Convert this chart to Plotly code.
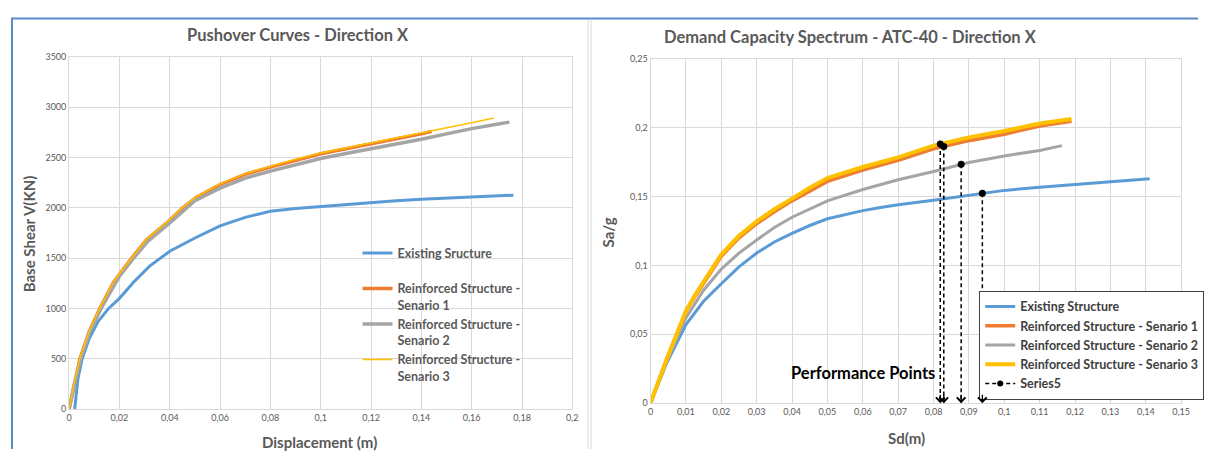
import plotly.graph_objects as go

# ---------------- Left chart: Pushover curves ----------------
disp_existing = [0.0022, 0.0035, 0.0052, 0.008, 0.0115, 0.0157, 0.02, 0.0256, 0.032, 0.04, 0.05,
                 0.06, 0.07, 0.08, 0.09, 0.1, 0.11, 0.12, 0.13, 0.14, 0.15, 0.16, 0.1766]
shear_existing = [0, 300, 500, 700, 870, 1000, 1100, 1260, 1420, 1568, 1700,
                  1820, 1905, 1965, 1992, 2013, 2035, 2055, 2070, 2084, 2097, 2110, 2126]

disp_s1 = [0, 0.002, 0.0043, 0.008, 0.0122, 0.0177, 0.02, 0.0249, 0.0308, 0.04, 0.0452, 0.0505,
           0.06, 0.0702, 0.08, 0.09, 0.1, 0.11, 0.12, 0.13, 0.14, 0.1441]
shear_s1 = [0, 250, 500, 770, 1000, 1261, 1342, 1500, 1682, 1876, 2000, 2102,
            2232, 2335, 2405, 2475, 2538, 2588, 2635, 2685, 2735, 2760]

disp_s2 = [0, 0.002, 0.0045, 0.008, 0.0125, 0.018, 0.02, 0.025, 0.031, 0.04, 0.05,
           0.06, 0.07, 0.08, 0.09, 0.1, 0.11, 0.12, 0.13, 0.14, 0.15, 0.16, 0.17, 0.175]
shear_s2 = [0, 240, 490, 755, 990, 1245, 1320, 1480, 1660, 1850, 2070,
            2195, 2295, 2365, 2430, 2490, 2540, 2585, 2632, 2681, 2735, 2787, 2830, 2852]

disp_s3 = [0, 0.002, 0.0043, 0.008, 0.0122, 0.0177, 0.02, 0.0249, 0.0308, 0.04, 0.0452, 0.0505,
           0.06, 0.0702, 0.08, 0.09, 0.1, 0.11, 0.12, 0.13, 0.14, 0.15, 0.16, 0.1688]
shear_s3 = [0, 255, 505, 775, 1005, 1265, 1345, 1505, 1688, 1882, 2005, 2108,
            2238, 2342, 2412, 2482, 2545, 2595, 2643, 2692, 2742, 2790, 2845, 2892]

left_xticks = [0, 0.02, 0.04, 0.06, 0.08, 0.1, 0.12, 0.14, 0.16, 0.18, 0.2]
left_xlabels = ["0", "0,02", "0,04", "0,06", "0,08", "0,1", "0,12", "0,14", "0,16", "0,18", "0,2"]
left_yticks = [0, 500, 1000, 1500, 2000, 2500, 3000, 3500]
left_ylabels = ["0", "500", "1000", "1500", "2000", "2500", "3000", "3500"]

# ---------------- Right chart: Capacity spectrum ----------------
sd_existing = [0, 0.0045, 0.01, 0.015, 0.02, 0.025, 0.03, 0.035, 0.04, 0.045, 0.05, 0.055, 0.06,
               0.065, 0.07, 0.08, 0.09, 0.1, 0.11, 0.12, 0.13, 0.14, 0.1411]
sa_existing = [0, 0.0288, 0.0571, 0.074, 0.0867, 0.099, 0.109, 0.117, 0.1233, 0.129, 0.1339, 0.137,
               0.1398, 0.142, 0.1441, 0.1474, 0.151, 0.1545, 0.1568, 0.1587, 0.1604, 0.1623, 0.163]

sd_s1 = [0, 0.0045, 0.01, 0.0128, 0.02, 0.025, 0.03, 0.035, 0.04, 0.045, 0.05, 0.06, 0.07,
         0.08, 0.09, 0.1, 0.11, 0.119]
sa_s1 = [0, 0.0312, 0.0666, 0.0784, 0.1067, 0.12, 0.1303, 0.139, 0.1469, 0.154, 0.161, 0.1693,
         0.1764, 0.1847, 0.1906, 0.1953, 0.2012, 0.2047]

sd_s2 = [0, 0.0045, 0.01, 0.015, 0.02, 0.025, 0.03, 0.035, 0.04, 0.045, 0.05, 0.06, 0.07,
         0.08, 0.09, 0.1, 0.11, 0.1163]
sa_s2 = [0, 0.03, 0.0619, 0.082, 0.0973, 0.109, 0.1185, 0.1275, 0.135, 0.141, 0.1469, 0.1551,
         0.1622, 0.1682, 0.1748, 0.1795, 0.1835, 0.187]

sd_s3 = [0, 0.0045, 0.01, 0.0128, 0.02, 0.025, 0.03, 0.035, 0.04, 0.045, 0.05, 0.06, 0.07,
         0.08, 0.09, 0.1, 0.11, 0.119]
sa_s3 = [0, 0.0315, 0.067, 0.0795, 0.108, 0.1215, 0.132, 0.1408, 0.1485, 0.1565, 0.1635, 0.1715,
         0.1785, 0.187, 0.193, 0.1976, 0.2031, 0.2064]

perf_sd = [0.0819, 0.0829, 0.0878, 0.0938]
perf_sa = [0.1882, 0.1863, 0.1734, 0.1524]

right_xticks = [i / 100 for i in range(16)]
right_xlabels = ["0", "0,01", "0,02", "0,03", "0,04", "0,05", "0,06", "0,07", "0,08", "0,09",
                 "0,1", "0,11", "0,12", "0,13", "0,14", "0,15"]
right_yticks = [0, 0.05, 0.1, 0.15, 0.2, 0.25]
right_ylabels = ["0", "0,05", "0,1", "0,15", "0,2", "0,25"]

BLUE = "#5B9BD5"
ORANGE = "#ED7D31"
GRAY = "#A5A5A5"
YELLOW = "#FFC000"
TXT = "#595959"
GRID = "#D9D9D9"
FONT = "Lato"

# The page body keeps its default 8px margin, so the figure fills the window minus it.
PAGE_MARGIN = 8
W, H = 1215 - 2 * PAGE_MARGIN, 462 - 2 * PAGE_MARGIN


def px(x):
    return (x - PAGE_MARGIN) / W


def py(y):
    return (H - (y - PAGE_MARGIN)) / H


fig = go.Figure()

# Left chart traces
fig.add_trace(go.Scatter(x=disp_existing, y=shear_existing, mode="lines",
                         name="Existing Sructure<br> ", line=dict(color=BLUE, width=3),
                         xaxis="x", yaxis="y", legend="legend"))
fig.add_trace(go.Scatter(x=disp_s1, y=shear_s1, mode="lines",
                         name="Reinforced Structure -<br>Senario 1", line=dict(color=ORANGE, width=3.5),
                         xaxis="x", yaxis="y", legend="legend"))
fig.add_trace(go.Scatter(x=disp_s2, y=shear_s2, mode="lines",
                         name="Reinforced Structure -<br>Senario 2", line=dict(color=GRAY, width=3.5),
                         xaxis="x", yaxis="y", legend="legend"))
fig.add_trace(go.Scatter(x=disp_s3, y=shear_s3, mode="lines",
                         name="Reinforced Structure -<br>Senario 3", line=dict(color=YELLOW, width=1.5),
                         xaxis="x", yaxis="y", legend="legend"))

# Right chart traces
fig.add_trace(go.Scatter(x=sd_existing, y=sa_existing, mode="lines", name="Existing Structure",
                         line=dict(color=BLUE, width=3), xaxis="x2", yaxis="y2", legend="legend2"))
fig.add_trace(go.Scatter(x=sd_s1, y=sa_s1, mode="lines", name="Reinforced Structure - Senario 1",
                         line=dict(color=ORANGE, width=3.5), xaxis="x2", yaxis="y2", legend="legend2"))
fig.add_trace(go.Scatter(x=sd_s2, y=sa_s2, mode="lines", name="Reinforced Structure - Senario 2",
                         line=dict(color=GRAY, width=3), xaxis="x2", yaxis="y2", legend="legend2"))
fig.add_trace(go.Scatter(x=sd_s3, y=sa_s3, mode="lines", name="Reinforced Structure - Senario 3",
                         line=dict(color=YELLOW, width=4), xaxis="x2", yaxis="y2", legend="legend2"))

# Performance point drop lines
drop_x, drop_y = [], []
for sx, sy in zip(perf_sd, perf_sa):
    drop_x += [sx, sx, None]
    drop_y += [sy, 0, None]
fig.add_trace(go.Scatter(x=drop_x, y=drop_y, mode="lines", showlegend=False,
                         line=dict(color="black", width=1.5, dash="4px,3px"),
                         xaxis="x2", yaxis="y2", hoverinfo="skip"))
fig.add_trace(go.Scatter(x=perf_sd, y=perf_sa, mode="markers", showlegend=False,
                         marker=dict(color="black", size=7), xaxis="x2", yaxis="y2"))
fig.add_trace(go.Scatter(x=[None], y=[None], mode="lines+markers", name="Series5",
                         line=dict(color="black", width=1.5, dash="4px,3px"),
                         marker=dict(color="black", size=6), xaxis="x2", yaxis="y2", legend="legend2"))

annotations = []
for sx in perf_sd:
    annotations.append(dict(x=sx, y=0, xref="x2", yref="y2", ax=0, ay=-10, axref="pixel",
                            ayref="pixel", showarrow=True, arrowhead=4, arrowsize=1.3,
                            arrowwidth=1.3, arrowcolor="black", text=""))

# Titles and axis titles
TSIZE = 15
annotations += [
    dict(text="<b>Pushover Curves - Direction X</b>", x=px(298), y=py(30), xref="paper", yref="paper",
         showarrow=False, font=dict(family=FONT, size=16.5, color=TXT), xanchor="center", yanchor="middle"),
    dict(text="<b>Demand Capacity Spectrum - ATC-40 - Direction X</b>", x=px(856), y=py(32),
         xref="paper", yref="paper", showarrow=False, font=dict(family=FONT, size=16.5, color=TXT),
         xanchor="center", yanchor="middle"),
    dict(text="<b>Displacement (m)</b>", x=px(320), y=py(447), xref="paper", yref="paper",
         showarrow=False, font=dict(family=FONT, size=TSIZE, color=TXT), xanchor="center", yanchor="middle"),
    dict(text="<b>Base Shear V(KN)</b>", x=px(27), y=py(233), xref="paper", yref="paper",
         showarrow=False, textangle=-90, font=dict(family=FONT, size=TSIZE, color=TXT),
         xanchor="center", yanchor="middle"),
    dict(text="<b>Sd(m)</b>", x=px(913), y=py(443), xref="paper", yref="paper",
         showarrow=False, font=dict(family=FONT, size=TSIZE, color=TXT), xanchor="center", yanchor="middle"),
    dict(text="<b>Sa/g</b>", x=px(612), y=py(232), xref="paper", yref="paper",
         showarrow=False, textangle=-90, font=dict(family=FONT, size=TSIZE, color=TXT),
         xanchor="center", yanchor="middle"),
    dict(text="<b>Performance Points</b>", x=px(943), y=py(376), xref="paper", yref="paper",
         showarrow=False, font=dict(family=FONT, size=16.5, color="black"), xanchor="right", yanchor="middle"),
]

shapes = [
    dict(type="line", xref="paper", yref="paper", x0=0, x1=1, y0=py(12.5), y1=py(12.5),
         line=dict(color="#5B8BC9", width=2)),
    dict(type="line", xref="paper", yref="paper", x0=px(9), x1=px(9), y0=py(12.5), y1=0,
         line=dict(color="#5B8BC9", width=2)),
    dict(type="line", xref="paper", yref="paper", x0=px(591), x1=px(591), y0=py(14), y1=0,
         line=dict(color=GRID, width=1)),
    dict(type="line", xref="paper", yref="paper", x0=px(594), x1=px(594), y0=py(14), y1=0,
         line=dict(color=GRID, width=1)),
]

tickfont = dict(family=FONT, size=9, color=TXT)
axis_common = dict(showgrid=True, gridcolor=GRID, gridwidth=1, zeroline=False, showline=True,
                   linecolor=GRID, linewidth=1, mirror=True, ticks="", tickfont=tickfont)

fig.update_layout(
    width=W, height=H,
    margin=dict(l=0, r=0, t=0, b=0),
    paper_bgcolor="white", plot_bgcolor="white",
    font=dict(family=FONT, color=TXT),
    xaxis=dict(domain=[px(66.7), px(575)], range=[0, 0.2], tickvals=left_xticks, ticktext=left_xlabels,
               anchor="y", **axis_common),
    yaxis=dict(domain=[py(413), py(52)], range=[0, 3500], tickvals=left_yticks, ticktext=left_ylabels,
               anchor="x", **axis_common),
    xaxis2=dict(domain=[px(654), px(1190)], range=[0, 0.15], tickvals=right_xticks,
                ticktext=right_xlabels, anchor="y2", **axis_common),
    yaxis2=dict(domain=[py(407), py(54)], range=[0, 0.25], tickvals=right_yticks,
                ticktext=right_ylabels, anchor="x2", **axis_common),
    legend=dict(x=px(358), y=py(238), xanchor="left", yanchor="top", bgcolor="rgba(0,0,0,0)",
                borderwidth=0, font=dict(family=FONT, size=12.5, color=TXT, weight="bold"),
                valign="top", itemwidth=30, traceorder="normal"),
    legend2=dict(x=px(986), y=py(292), xanchor="left", yanchor="top", bgcolor="white",
                 bordercolor="#404040", borderwidth=1,
                 font=dict(family=FONT, size=12.5, color="#404040", weight="bold"),
                 itemwidth=30, traceorder="normal", tracegroupgap=0),
    annotations=annotations,
    shapes=shapes,
    showlegend=True,
)

fig.write_html("out.html", config={"displayModeBar": False})
